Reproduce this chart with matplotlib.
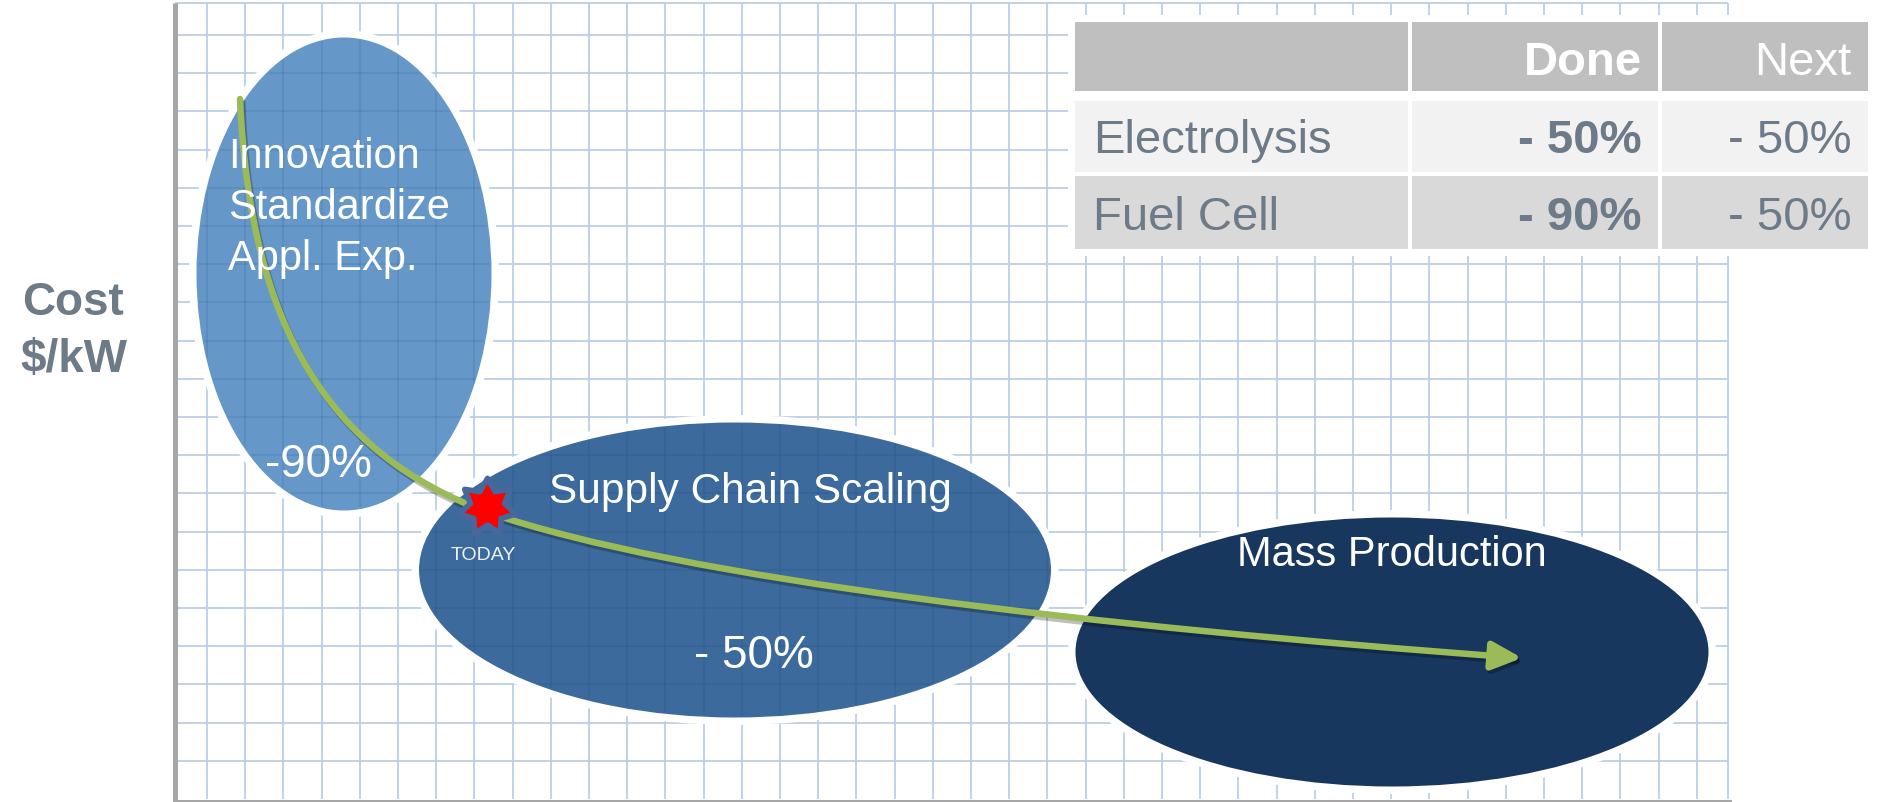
import matplotlib.pyplot as plt
import matplotlib.patheffects as pe
from matplotlib.patches import Ellipse, Rectangle, FancyArrowPatch, ArrowStyle
from matplotlib.path import Path
from matplotlib.collections import LineCollection

plt.rcParams['font.family'] = ['Liberation Sans', 'DejaVu Sans']

W, H = 1878, 803
PX = 0.72  # points per pixel at dpi 100

# stages drawn as ellipses (pixel space of the picture)
stage_cx = [344, 735, 1392]
stage_cy = [275, 571, 653]
stage_w = [298, 635, 636]
stage_h = [476, 298, 272]
stage_colors = ["#6597C9", "#3C6A9C", "#17375E"]
stage_grid_alpha = [0.16, 0.22, 0.04]

# stage labels
innovation_lines = ["Innovation", "Standardize", "Appl. Exp."]
stage_labels = ["Supply Chain Scaling", "Mass Production"]
drop_labels = ["-90%", "- 50%"]

# cost curve: two cubic bezier pieces through TODAY
curve_x = [240, 250, 330, 487, 680, 1100, 1522]
curve_y = [100, 330, 455, 513, 580, 628, 659]
today_x, today_y = 487, 508

# table
table_header = ["", "Done", "Next"]
table_rows = ["Electrolysis", "Fuel Cell"]
done_vals = ["- 50%", "- 90%"]
next_vals = ["- 50%", "- 50%"]

grid_color = "#B8CCE4"
text_gray = "#6D7A87"

fig = plt.figure(figsize=(W / 100, H / 100), dpi=100)
ax = fig.add_axes([0, 0, 1, 1])
ax.set_xlim(0, W)
ax.set_ylim(H, 0)
ax.axis('off')

# graph paper
left, right, top, bottom = 175, 1728, 4, 800
vx = [207 + 38.2 * k for k in range(40)] + [right]
hy = [bottom - 38.2 * k for k in range(1, 21)] + [top]
segs = [[(x, top), (x, bottom)] for x in vx] + [[(left, y), (right, y)] for y in hy]
ax.add_collection(LineCollection(segs, colors=grid_color, linewidths=1.7 * PX, zorder=1))

# axes
ax.plot([left, left], [top, bottom + 3], color="#A6A6A6", lw=5 * PX, zorder=2,
        solid_capstyle='butt')
ax.plot([left, right + 2], [bottom + 1.5, bottom + 1.5], color="#A6A6A6", lw=3 * PX, zorder=2)

# ellipses
for i in range(3):
    z = 3 + i
    halo = Ellipse((stage_cx[i], stage_cy[i]), stage_w[i], stage_h[i], fc='none',
                   ec='white', lw=12 * PX, zorder=z)
    ax.add_patch(halo)
    e = Ellipse((stage_cx[i], stage_cy[i]), stage_w[i], stage_h[i], fc=stage_colors[i],
                ec='white', lw=3 * PX, zorder=z)
    ax.add_patch(e)
    clip = Ellipse((stage_cx[i], stage_cy[i]), stage_w[i] - 6, stage_h[i] - 6,
                   transform=ax.transData)
    lc = LineCollection(segs, colors="#1E4F86", linewidths=1.7 * PX,
                        alpha=stage_grid_alpha[i], zorder=z)
    ax.add_collection(lc)
    lc.set_clip_path(clip)

# cost curve with arrow
verts = list(zip(curve_x, curve_y))
codes = [Path.MOVETO] + [Path.CURVE4] * 6
arrow = FancyArrowPatch(path=Path(verts, codes),
                        arrowstyle=ArrowStyle("-|>", head_length=18, head_width=8.5),
                        mutation_scale=1, color="#9BBB59", lw=6.5 * PX, zorder=10,
                        shrinkA=0, shrinkB=0)
arrow.set_path_effects([pe.SimpleLineShadow(offset=(1.5, -2.5), shadow_color='k', alpha=0.25),
                        pe.Normal()])
ax.add_patch(arrow)

# today marker
star = Path.unit_regular_star(7, 0.6)
ax.plot(today_x, today_y, marker=star, markersize=42, mfc="#FF0000",
        mec="#46689A", mew=4, zorder=11)
ax.text(483, 560, "TODAY", fontsize=14, color="#EEF2F7", ha='center', va='baseline', zorder=12)

# labels in ellipses
for k, line in enumerate(innovation_lines):
    ax.text(228, 168 + 51 * k, line, fontsize=30, color='white', va='baseline', zorder=12)
ax.text(265, 477, drop_labels[0], fontsize=33, color='white', va='baseline', zorder=12)
ax.text(750, 503, stage_labels[0], fontsize=30.5, color='white', ha='center', va='baseline', zorder=12)
ax.text(754, 668, drop_labels[1], fontsize=33, color='white', ha='center', va='baseline', zorder=12)
ax.text(1392, 566, stage_labels[1], fontsize=30, color='white', ha='center', va='baseline', zorder=12)

# y label
ax.text(73, 315, "Cost", fontsize=33, fontweight='bold', color=text_gray, ha='center', va='baseline')
ax.text(74, 372, "$/kW", fontsize=33, fontweight='bold', color=text_gray, ha='center', va='baseline')

# table
col_edges = [1073, 1410, 1660, 1870]
row_edges = [(21, 94), (100, 175), (175, 252)]
row_colors = ["#BFBFBF", "#F2F2F2", "#D9D9D9"]
baselines = [75, 153, 230]
ax.add_patch(Rectangle((col_edges[0] - 5, 16), col_edges[-1] - col_edges[0] + 10, 241,
                       fc='white', ec='none', zorder=6))
for r, (y0, y1) in enumerate(row_edges):
    for c in range(3):
        ax.add_patch(Rectangle((col_edges[c], y0), col_edges[c + 1] - col_edges[c], y1 - y0,
                               fc=row_colors[r], ec='white', lw=4 * PX, zorder=7))

ax.text(1642, baselines[0], table_header[1], fontsize=34, fontweight='bold', color='white',
        ha='right', va='baseline', zorder=8)
ax.text(1851, baselines[0], table_header[2], fontsize=34, color='white',
        ha='right', va='baseline', zorder=8)
for r in range(len(table_rows)):
    b = baselines[r + 1]
    ax.text(1093, b, table_rows[r], fontsize=34, color=text_gray, va='baseline', zorder=8)
    ax.text(1642, b, done_vals[r], fontsize=34, fontweight='bold', color=text_gray,
            ha='right', va='baseline', zorder=8)
    ax.text(1851, b, next_vals[r], fontsize=34, color=text_gray, ha='right', va='baseline', zorder=8)

fig.savefig("out.png", dpi=100)
